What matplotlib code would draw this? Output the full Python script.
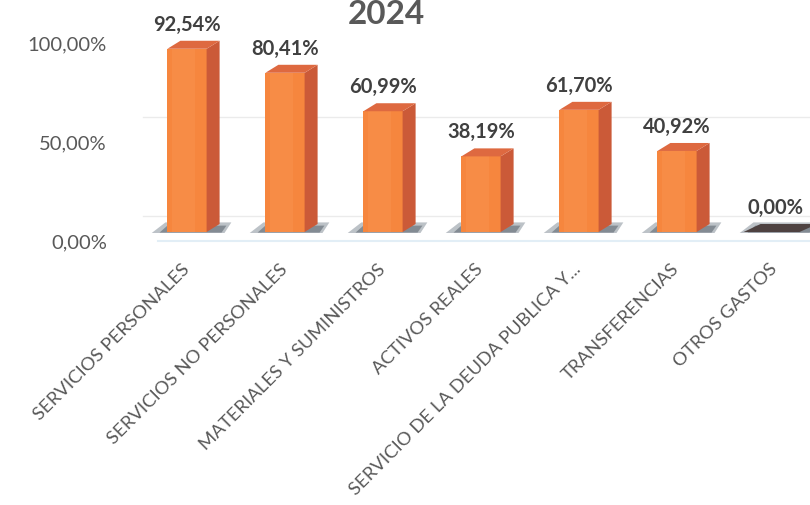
import matplotlib
matplotlib.use("Agg")
import matplotlib.pyplot as plt
from matplotlib.patches import Polygon
from matplotlib.transforms import offset_copy

categories = ["SERVICIOS PERSONALES", "SERVICIOS NO PERSONALES", "MATERIALES Y SUMINISTROS",
              "ACTIVOS REALES", "SERVICIO DE LA DEUDA PUBLICA Y...", "TRANSFERENCIAS", "OTROS GASTOS"]
values = [92.54, 80.41, 60.99, 38.19, 61.70, 40.92, 0.00]
value_labels = ["92,54%", "80,41%", "60,99%", "38,19%", "61,70%", "40,92%", "0,00%"]
yticks = [0, 50, 100]
ytick_labels = ["0,00%", "50,00%", "100,00%"]
title = "2024"

plt.rcParams['font.family'] = ['Lato', 'DejaVu Sans']
W, H = 810, 506
fig = plt.figure(figsize=(W / 100, H / 100), dpi=100)
fig.patch.set_facecolor('white')

# axes: y=0 at pixel 233 from top, 1.98 px per percent; x center i at 187 + 98 i
ax = fig.add_axes([138 / W, (H - 233) / H, (W - 138) / W, 198 / H])
ax.set_xlim(-0.5, (W - 187) / 98)
ax.set_ylim(0, 100)
ax.axis('off')

front_c = '#F6863E'
front_hi = '#FB9A55'
side_c = '#CB5A38'
top_c = '#DE6940'
half = 0.20            # half width of front face (data units)
dx = 13 / 98           # depth in x (data units)
dy = 8 / 1.98          # depth in y (data units)

# back-wall gridlines (offset up) and floor edge
grid_tr = offset_copy(ax.transData, fig=fig, x=0, y=16, units='dots')
for t in yticks[:2]:
    ax.plot([-0.45, 6.4], [t, t], color='#EBEBEB', lw=1.0, transform=grid_tr,
            clip_on=False, zorder=0)
floor_tr = offset_copy(ax.transData, fig=fig, x=0, y=-9, units='dots')
ax.plot([-0.3, 6.4], [0, 0], color='#E2EEF6', lw=1.5, transform=floor_tr, clip_on=False, zorder=0)

for i, v in enumerate(values):
    xl, xr = i - half, i + half
    # shadow
    ax.add_patch(Polygon([(xl - 0.16, -0.5), (xr + dx + 0.05, -0.5), (xr + dx + 0.12, dy * 1.2),
                          (xl - 0.02, dy * 1.2)], closed=True, facecolor='#6C7884', alpha=0.45,
                         edgecolor='none', zorder=1, clip_on=False))
    ax.add_patch(Polygon([(xl - 0.08, -0.3), (xr + dx + 0.02, -0.3), (xr + dx + 0.07, dy * 0.8),
                          (xl, dy * 0.8)], closed=True, facecolor='#4C5660', alpha=0.5,
                         edgecolor='none', zorder=1, clip_on=False))
    if v > 0:
        ax.add_patch(Polygon([(xl, 0), (xr, 0), (xr, v), (xl, v)], closed=True,
                             facecolor=front_c, edgecolor='none', zorder=3, clip_on=False))
        ax.add_patch(Polygon([(xl + 0.05, 0), (xr - 0.12, 0), (xr - 0.12, v), (xl + 0.05, v)],
                             closed=True, facecolor=front_hi, alpha=0.35, edgecolor='none',
                             zorder=3, clip_on=False))
        ax.add_patch(Polygon([(xr, 0), (xr + dx, dy), (xr + dx, v + dy), (xr, v)], closed=True,
                             facecolor=side_c, edgecolor='none', zorder=3, clip_on=False))
        ax.add_patch(Polygon([(xl, v), (xr, v), (xr + dx, v + dy), (xl + dx, v + dy)], closed=True,
                             facecolor=top_c, edgecolor='none', zorder=3, clip_on=False))
    else:
        ax.add_patch(Polygon([(xl - 0.12, v), (xr + 0.05, v), (xr + dx + 0.1, v + dy),
                              (xl + dx - 0.08, v + dy)], closed=True,
                             facecolor='#4E4241', edgecolor='none', zorder=3, clip_on=False))
    ax.annotate(value_labels[i], xy=(i, v), xytext=(0, 25), textcoords='offset pixels',
                ha='center', va='center', fontsize=14.5, fontweight='bold', color='#404040',
                zorder=5, annotation_clip=False)
    ax.annotate(categories[i], xy=(i, 0), xytext=(-6, -28), textcoords='offset pixels',
                ha='right', va='top', rotation=45, rotation_mode='anchor',
                fontsize=13.3, color='#595959', annotation_clip=False)

# y tick labels, shifted 10 px down (front floor plane)
for t, lab in zip(yticks, ytick_labels):
    ax.annotate(lab, xy=(0, t), xycoords=('axes fraction', 'data'), xytext=(-31, -10),
                textcoords='offset pixels', ha='right', va='center', fontsize=14.5,
                color='#595959', annotation_clip=False)

fig.text(386 / W, (H - 24) / H, title, ha='center', va='baseline', fontsize=24,
         fontweight='bold', color='#595959')

fig.savefig('out.png', dpi=100, facecolor='white')
